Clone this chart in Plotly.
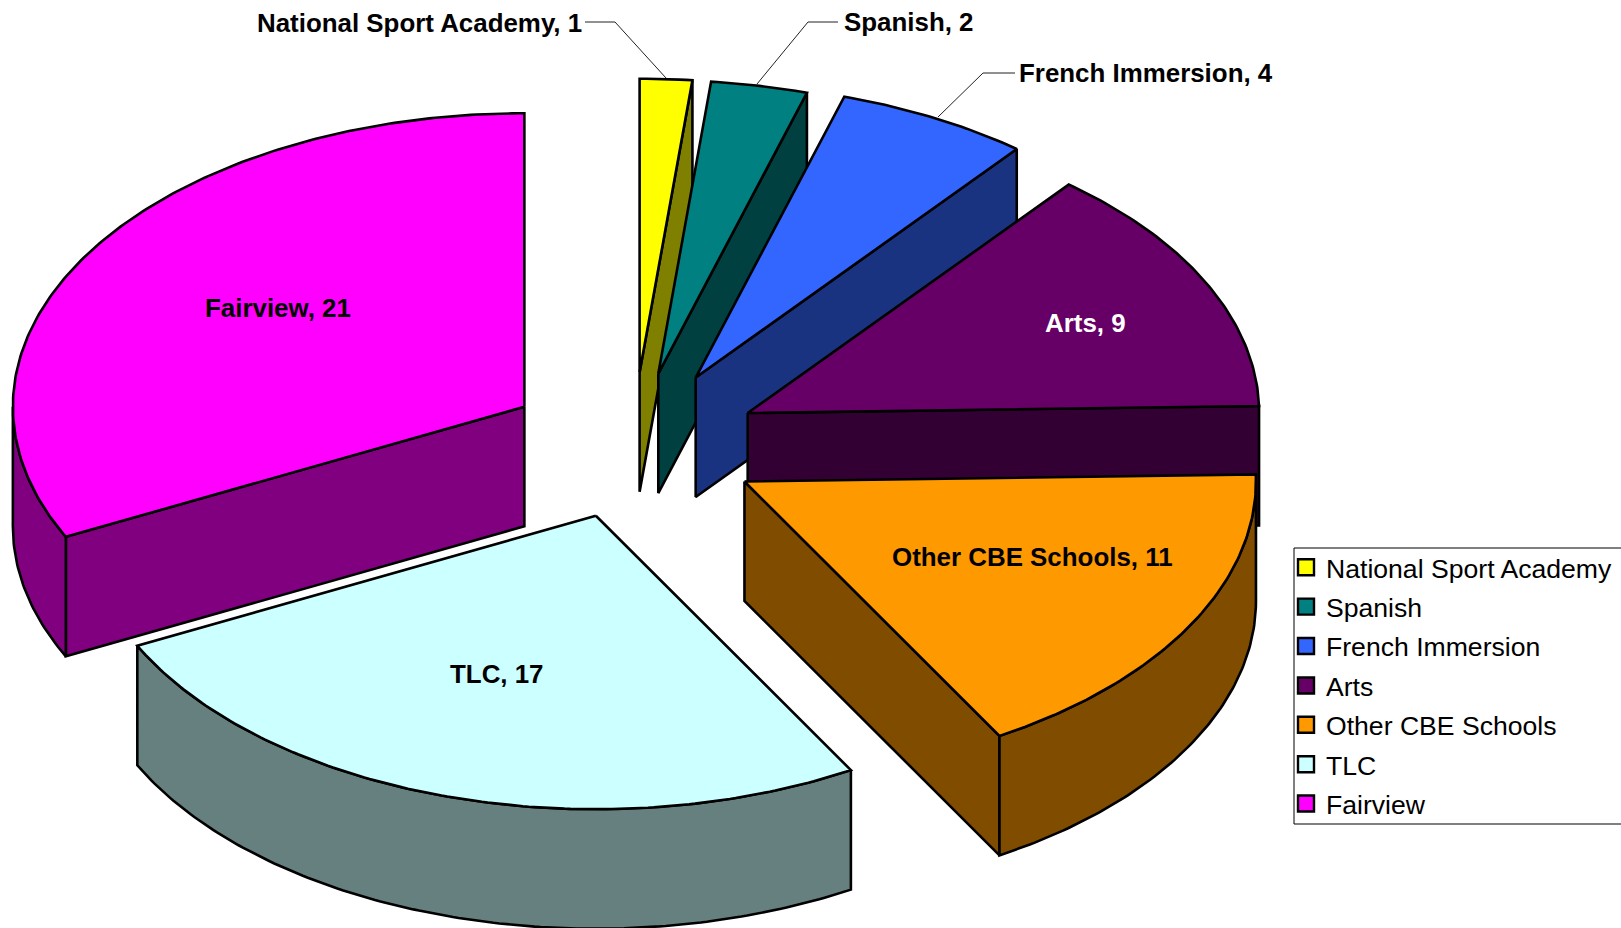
import math
import plotly.graph_objects as go

# ---- data ----
categories = ["National Sport Academy", "Spanish", "French Immersion", "Arts",
              "Other CBE Schools", "TLC", "Fairview"]
values = [1.07, 1.98, 3.97, 8.98, 11.1, 16.9, 21]
colors = ["#FFFF00", "#008080", "#3366FF", "#660066", "#FF9900", "#CCFFFF", "#FF00FF"]
explode = [0.25, 0.25, 0.262, 0.25, 0.25, 0.25, 0.25]

# ---- pie geometry (3-D projection) ----
WIDTH, HEIGHT = 1621, 928
CX, CY = 633, 445.5
RX, RY = 511.5, 293.5
DEPTH = 119.5
FONT = "Liberation Sans, Arial, sans-serif"
LINE = 2.6


def darken(hex_color):
    r, g, b = (int(hex_color[i:i + 2], 16) for i in (1, 3, 5))
    return f"rgb({round(r / 2)},{round(g / 2)},{round(b / 2)})"


def arc(a0, a1, ox, oy, dz=0.0):
    n = max(2, int(abs(a1 - a0) * 1.5))
    pts = [a0 + (a1 - a0) * i / n for i in range(n + 1)]
    return ([ox + RX * math.sin(math.radians(a)) for a in pts],
            [oy - RY * math.cos(math.radians(a)) + dz for a in pts])


def rim(a, ox, oy):
    return ox + RX * math.sin(math.radians(a)), oy - RY * math.cos(math.radians(a))


fig = go.Figure()


def poly(xs, ys, fill):
    fig.add_trace(go.Scatter(x=xs + xs[:1], y=ys + ys[:1], mode="lines", fill="toself",
                             fillcolor=fill, line=dict(color="black", width=LINE, shape="linear"),
                             showlegend=False, hoverinfo="skip"))


total = sum(values)
start = 0.0
for name, value, color, ex_frac in zip(categories, values, colors, explode):
    end = start + 360.0 * value / total
    mid = math.radians((start + end) / 2)
    ox = CX + ex_frac * RX * math.sin(mid)
    oy = CY - ex_frac * RY * math.cos(mid)
    side = darken(color)

    # radial walls that face the viewer
    for angle, visible in ((start, math.sin(math.radians(start)) < 0),
                           (end, math.sin(math.radians(end)) > 0)):
        if visible:
            ex, ey = rim(angle, ox, oy)
            poly([ox, ex, ex, ox], [oy, ey, ey + DEPTH, oy + DEPTH], side)
    # curved outer wall
    a0, a1 = max(start, 90.0), min(end, 270.0)
    if a1 > a0:
        tx, ty = arc(a0, a1, ox, oy)
        bx, by = arc(a0, a1, ox, oy, DEPTH)
        poly(tx + bx[::-1], ty + by[::-1], side)
    # top face
    ax, ay = arc(start, end, ox, oy)
    poly([ox] + ax, [oy] + ay, color)
    start = end

# legend entries
for name, color in zip(categories, colors):
    fig.add_trace(go.Scatter(x=[None], y=[None], mode="markers", name=name, legendgroup=name,
                             marker=dict(symbol="square", size=16, color=color,
                                         line=dict(color="black", width=2.4))))

# labels
label_pos = [(584, 22.5, "right", "black"), (842, 21.5, "left", "black"), (1017, 73, "left", "black"),
             (1085.5, 323, "center", "white"), (1032, 557, "center", "black"),
             (496.5, 674, "center", "black"), (278, 308, "center", "black")]
for name, value, (x, y, anchor, col) in zip(categories, values, label_pos):
    fig.add_annotation(x=x, y=y, xref="x", yref="y", text=f"<b>{name}, {round(value)}</b>",
                       showarrow=False, xanchor=anchor, yanchor="middle",
                       font=dict(family=FONT, size=25.9, color=col))

leaders = [[(585, 22), (615, 22), (666, 78)],
           [(838, 22), (808, 22), (757, 84)],
           [(1015, 73), (983, 73), (938, 117)]]
shapes = []
for pts in leaders:
    path = "M " + " L ".join(f"{x},{y}" for x, y in pts)
    shapes.append(dict(type="path", path=path, xref="x", yref="y",
                       line=dict(color="#222222", width=1)))
shapes.append(dict(type="rect", xref="x", yref="y", x0=1294, x1=1630, y0=548, y1=824,
                   line=dict(color="black", width=1), fillcolor="white", layer="below"))

fig.update_layout(
    width=WIDTH, height=HEIGHT, margin=dict(l=0, r=0, t=0, b=0),
    paper_bgcolor="white", plot_bgcolor="rgba(0,0,0,0)",
    xaxis=dict(range=[0, WIDTH], visible=False, fixedrange=True),
    yaxis=dict(range=[HEIGHT, 0], visible=False, fixedrange=True),
    shapes=shapes,
    legend=dict(x=1286 / WIDTH, xanchor="left", y=1 - 543.5 / HEIGHT, yanchor="top",
                bgcolor="rgba(0,0,0,0)", borderwidth=0, tracegroupgap=1.8,
                font=dict(family=FONT, size=26.6, color="black"), itemsizing="trace"),
    font=dict(family=FONT),
)

fig.write_html("out.html", config={"displayModeBar": False},
               post_script="document.body.style.margin='0';")
